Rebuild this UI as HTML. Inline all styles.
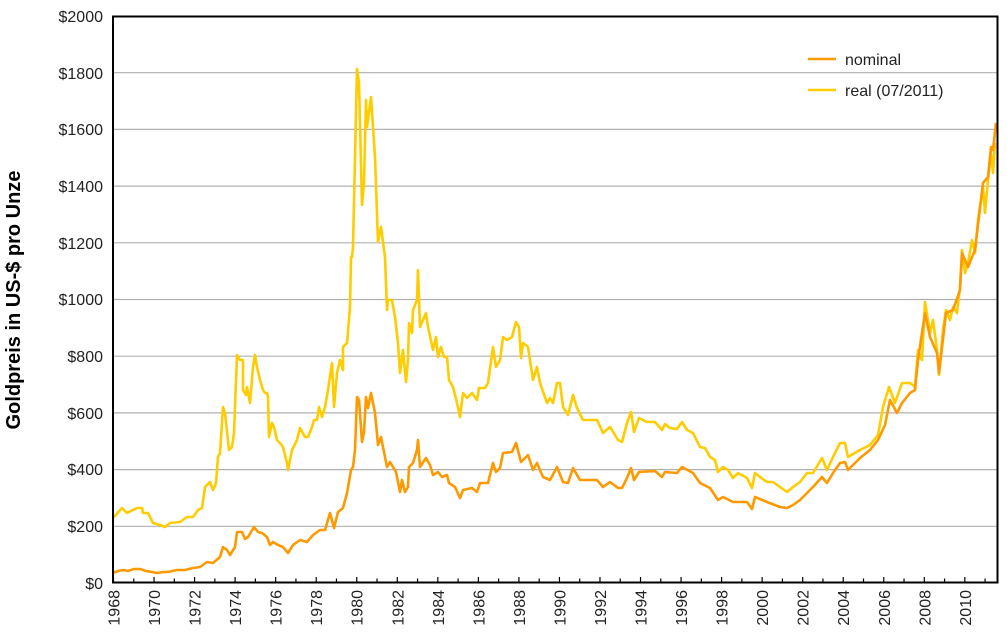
<!DOCTYPE html>
<html><head><meta charset="utf-8"><style>body{margin:0;background:#fff}svg{display:block}text{font-family:"Liberation Sans",sans-serif}</style></head><body>
<svg width="1007" height="642" viewBox="0 0 1007 642" xmlns="http://www.w3.org/2000/svg">
<g stroke="#b0b0b0" stroke-width="1.2">
<line x1="113" x2="997" y1="526.3" y2="526.3"/><line x1="113" x2="997" y1="469.6" y2="469.6"/><line x1="113" x2="997" y1="412.9" y2="412.9"/><line x1="113" x2="997" y1="356.2" y2="356.2"/><line x1="113" x2="997" y1="299.5" y2="299.5"/><line x1="113" x2="997" y1="242.8" y2="242.8"/><line x1="113" x2="997" y1="186.1" y2="186.1"/><line x1="113" x2="997" y1="129.4" y2="129.4"/><line x1="113" x2="997" y1="72.7" y2="72.7"/>
</g>
<g font-size="16" fill="#222" text-anchor="end">
<text x="103" y="589">$0</text><text x="103" y="532">$200</text><text x="103" y="475">$400</text><text x="103" y="419">$600</text><text x="103" y="362">$800</text><text x="103" y="305">$1000</text><text x="103" y="249">$1200</text><text x="103" y="192">$1400</text><text x="103" y="135">$1600</text><text x="103" y="79">$1800</text><text x="103" y="22">$2000</text>
</g>
<text transform="translate(20,300) rotate(-90)" font-size="20" font-weight="bold" text-anchor="middle" fill="#000">Goldpreis in US-$ pro Unze</text>
<polyline fill="none" stroke="#FFCC00" stroke-width="2.6" stroke-linejoin="round" points="113,518 122,508 127,513 137,508 142,508 143,513 148,513 153,523 160,525 165,527 170,523 180,522 187,517 193,517 198,510 202,508 205,487 210,482 213,490 216,483 218,457 220,453 223,407 225,413 229,450 232,447 234,433 237,355 240,360 243,360 243,390 246,395 247,387 250,403 253,367 255,355 257,367 260,380 263,390 265,393 267,393 268,397 269,437 272,423 274,427 277,440 280,443 283,447 287,463 288,470 292,450 297,440 300,428 305,437 308,437 312,427 314,420 317,420 319,407 322,417 325,407 328,390 332,363 334,407 337,373 340,360 343,370 343,347 347,343 350,307 351,257 352,257 353,247 357,69 359,83 362,205 364,183 366,100 367,127 371,97 375,157 378,242 381,227 385,257 387,310 388,300 392,300 395,317 398,343 400,373 403,350 406,382 408,360 409,323 412,333 413,310 417,300 418,270 420,327 423,320 426,313 428,327 433,350 436,337 438,357 441,347 444,357 447,357 449,380 453,387 457,403 460,417 463,393 467,398 472,393 477,400 479,388 485,388 488,383 493,347 496,367 500,360 503,337 507,340 512,337 516,322 519,327 521,358 523,343 528,347 533,380 537,367 540,383 547,403 550,398 553,403 557,383 560,383 563,407 568,415 573,395 577,408 583,420 590,420 597,420 603,433 610,427 618,440 622,442 627,423 631,412 634,432 639,418 647,422 655,422 662,430 665,424 670,428 677,429 682,422 687,430 693,433 700,447 705,448 710,457 715,460 718,472 723,467 728,470 733,478 738,473 747,478 752,488 755,473 760,477 767,482 773,482 780,487 787,492 793,487 800,482 807,473 813,473 822,458 827,470 833,457 840,443 845,443 848,457 860,450 870,445 878,435 883,407 889,387 895,403 902,383 910,383 915,387 918,350 922,360 925,302 930,333 933,320 937,350 939,375 943,330 946,310 950,320 953,307 957,313 960,287 962,250 965,273 968,263 972,240 975,253 978,220 983,187 985,213 988,180 991,153 993,173 995,143"/>
<polyline fill="none" stroke="#FF9900" stroke-width="2.6" stroke-linejoin="round" points="113,573 118,571 123,570 128,571 134,569 140,569 146,571 152,572 157,573 163,572 168,572 177,570 185,570 193,568 200,567 207,562 213,563 220,557 223,547 227,550 230,555 235,547 237,532 242,532 245,539 248,537 254,527 258,532 262,533 267,537 270,545 273,542 278,545 283,547 288,553 293,545 300,540 307,542 313,535 320,530 325,530 330,513 334,528 338,512 343,508 347,493 351,470 353,467 355,450 357,397 359,400 362,442 364,432 366,397 368,408 371,393 375,413 378,445 381,437 383,447 387,467 390,462 396,472 400,492 402,480 405,492 408,487 409,467 413,463 417,450 418,440 420,467 426,458 430,465 433,475 438,472 442,477 447,475 449,483 455,487 460,498 463,490 472,488 477,492 480,483 488,483 493,463 496,472 500,468 503,453 512,452 516,443 521,462 528,455 533,470 537,463 543,477 550,480 557,467 563,482 568,483 573,468 580,480 590,480 597,480 603,487 610,482 618,488 622,488 627,478 631,468 634,480 639,472 655,471 662,477 665,472 677,473 682,467 693,473 700,483 710,488 718,500 723,497 733,502 747,502 752,509 755,497 767,502 780,507 787,508 793,505 800,500 807,493 813,487 822,477 827,483 833,473 840,463 845,462 848,470 860,458 870,450 878,440 885,425 890,400 897,413 902,403 910,393 915,390 918,360 925,313 930,337 937,353 939,373 946,313 953,310 960,290 962,253 968,267 975,250 983,183 988,177 991,147 993,150 996,123"/>
<rect x="113" y="16.5" width="884.5" height="566" fill="none" stroke="#000" stroke-width="2"/>
<g stroke="#000" stroke-width="1.2" id="ticks"></g>
<g font-size="16" fill="#222" id="xl"></g>
<line x1="808" x2="836" y1="59" y2="59" stroke="#FF9900" stroke-width="2.6"/>
<line x1="808" x2="836" y1="90" y2="90" stroke="#FFCC00" stroke-width="2.6"/>
<text x="845" y="65" font-size="16" fill="#222">nominal</text>
<text x="845" y="96" font-size="16" fill="#222">real (07/2011)</text>
<script>
var t=document.getElementById('ticks'),xl=document.getElementById('xl'),ns='http://www.w3.org/2000/svg';
for(var y=1968;y<=2011;y++){var x=113.5+(y-1968)*20.27;var l=document.createElementNS(ns,'line');l.setAttribute('x1',x);l.setAttribute('x2',x);l.setAttribute('y1',582.5);l.setAttribute('y2',y%2==0?577:578.5);t.appendChild(l);
if(y%2==0){var tx=document.createElementNS(ns,'text');tx.setAttribute('transform','translate('+(x+6)+',590) rotate(-90)');tx.setAttribute('text-anchor','end');tx.textContent=y;xl.appendChild(tx);}}
</script>
</svg>
</body></html>
